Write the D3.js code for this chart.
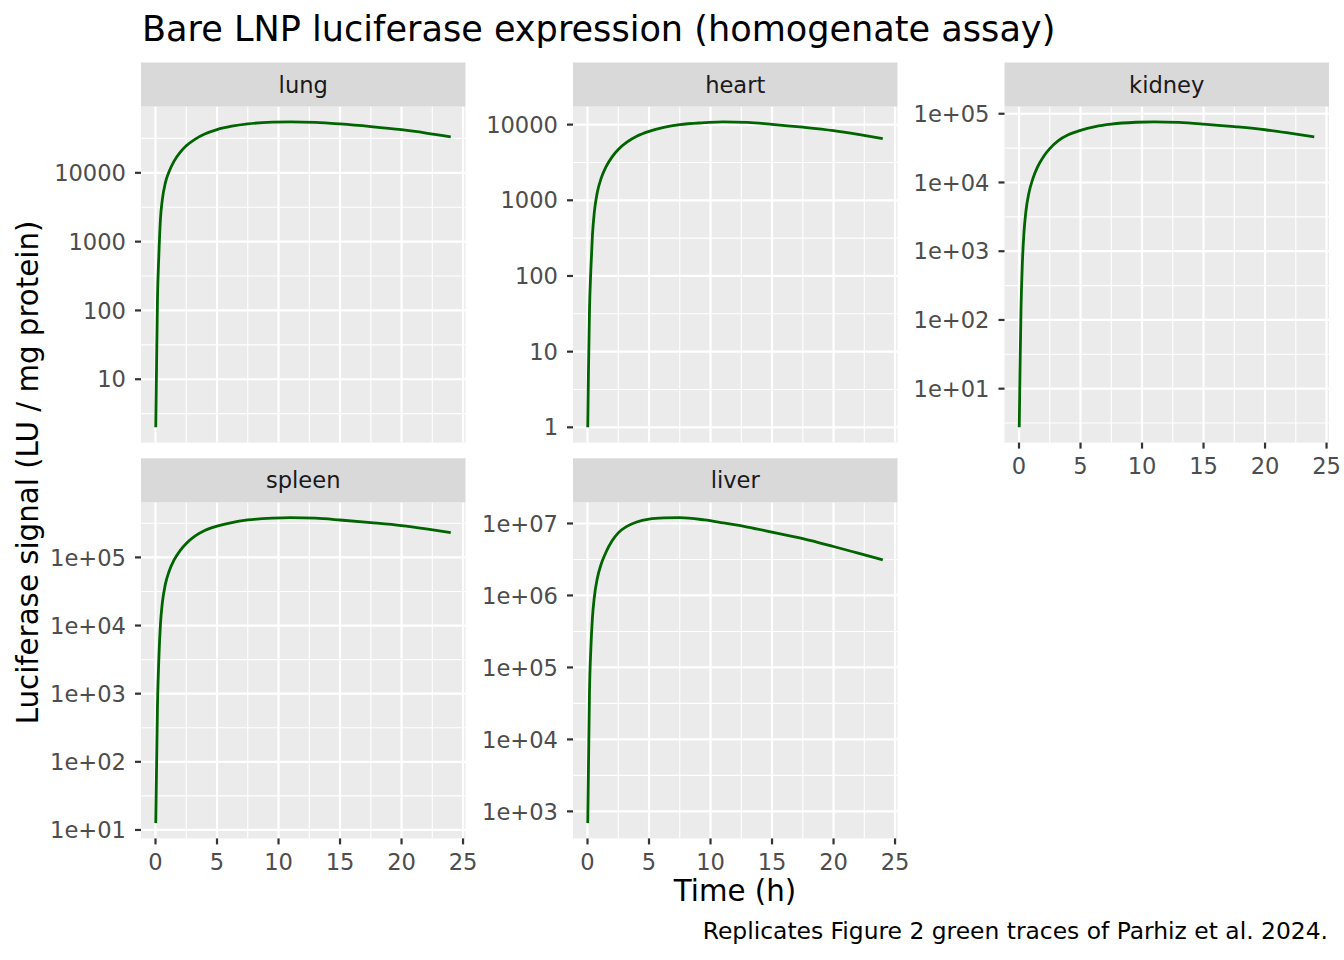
<!DOCTYPE html>
<html>
<head>
<meta charset="utf-8">
<script src="https://cdn.jsdelivr.net/npm/d3@7"></script>
<style>
  html, body { margin: 0; padding: 0; background: #ffffff; }
  svg { display: block; font-family: "DejaVu Sans", sans-serif; }
</style>
</head>
<body>
<script>
// ---------------- data ----------------
const organs = ["lung", "heart", "kidney", "spleen", "liver"];
const timeH = [0.02, 0.08, 0.16, 0.27, 0.4, 0.55, 0.8, 1.1, 1.5, 2, 2.5, 3.2, 4, 5, 6.2, 7.5, 9.5, 11, 13, 15, 17.5, 20, 22, 24];

const lungSignal   = [2.0, 13.2, 145, 619, 2100, 4020, 7140, 10400, 14700, 19800, 24700, 30700, 36600, 42500, 47600, 51500, 54500, 55200, 54100, 51300, 47000, 42300, 37900, 33400];
const heartSignal  = [1.0, 5.7, 34.4, 119, 344, 685, 1280, 1930, 2760, 3750, 4690, 5860, 7010, 8130, 9180, 10000, 10600, 10900, 10700, 10100, 9250, 8320, 7430, 6550];
const kidneySignal = [2.74, 17.9, 136, 650, 1830, 3660, 6970, 11000, 16700, 23900, 31100, 40600, 49300, 57400, 65000, 70600, 75200, 76400, 74800, 70800, 64900, 58500, 52200, 46100];
const spleenSignal = [12.6, 69.8, 667, 3190, 10300, 21100, 40200, 62200, 91000, 126000, 160000, 205000, 248000, 287000, 325000, 354000, 377000, 384000, 376000, 354000, 324000, 293000, 262000, 231000];
const liverSignal  = [687, 4220, 44700, 178000, 490000, 933000, 1740000, 2690000, 3980000, 5750000, 7410000, 9120000, 10500000, 11530000, 11970000, 12080000, 11200000, 10200000, 8910000, 7590000, 6170000, 4790000, 3870000, 3120000];

const lungBreaks   = [10, 100, 1000, 10000];
const lungLabels   = ["10", "100", "1000", "10000"];
const heartBreaks  = [1, 10, 100, 1000, 10000];
const heartLabels  = ["1", "10", "100", "1000", "10000"];
const kidneyBreaks = [1e1, 1e2, 1e3, 1e4, 1e5];
const kidneyLabels = ["1e+01", "1e+02", "1e+03", "1e+04", "1e+05"];
const spleenBreaks = [1e1, 1e2, 1e3, 1e4, 1e5];
const spleenLabels = ["1e+01", "1e+02", "1e+03", "1e+04", "1e+05"];
const liverBreaks  = [1e3, 1e4, 1e5, 1e6, 1e7];
const liverLabels  = ["1e+03", "1e+04", "1e+05", "1e+06", "1e+07"];

const xBreaks = [0, 5, 10, 15, 20, 25];
const xLabels = ["0", "5", "10", "15", "20", "25"];

const titleText   = "Bare LNP luciferase expression (homogenate assay)";
const xTitleText  = "Time (h)";
const yTitleText  = "Luciferase signal (LU / mg protein)";
const captionText = "Replicates Figure 2 green traces of Parhiz et al. 2024.";

// ---------------- layout ----------------
const W = 1344, H = 960;
const colLeft = [141, 573, 1004.5];
const panelW = 324.5;
const stripTop = [62.5, 458.3];
const stripH = 44;
const panelH = 336.1;
const tickFont = 22.6, stripFont = 22.6, captionFont = 23.4, axisTitleFont = 29.3, titleFont = 35.1;

const panels = [
  { name: "lung",   col: 0, row: 0, values: lungSignal,   breaks: lungBreaks,   labels: lungLabels,   xAxis: false },
  { name: "heart",  col: 1, row: 0, values: heartSignal,  breaks: heartBreaks,  labels: heartLabels,  xAxis: false },
  { name: "kidney", col: 2, row: 0, values: kidneySignal, breaks: kidneyBreaks, labels: kidneyLabels, xAxis: true },
  { name: "spleen", col: 0, row: 1, values: spleenSignal, breaks: spleenBreaks, labels: spleenLabels, xAxis: true },
  { name: "liver",  col: 1, row: 1, values: liverSignal,  breaks: liverBreaks,  labels: liverLabels,  xAxis: true }
];

const svg = d3.select("body").append("svg")
  .attr("width", W).attr("height", H)
  .attr("viewBox", `0 0 ${W} ${H}`);
svg.append("rect").attr("width", W).attr("height", H).attr("fill", "#ffffff");

const defs = svg.append("defs");

panels.forEach((p) => {
  const left = colLeft[p.col];
  const sTop = stripTop[p.row];
  const top = sTop + stripH;
  const bottom = top + panelH;

  // x scale with ggplot 5% expansion
  const tExt = d3.extent(timeH);
  const tSpan = tExt[1] - tExt[0];
  const x = d3.scaleLinear()
    .domain([tExt[0] - 0.05 * tSpan, tExt[1] + 0.05 * tSpan])
    .range([left, left + panelW]);

  // log y scale with 5% expansion in log space
  const lExt = d3.extent(p.values, v => Math.log10(v));
  const lSpan = lExt[1] - lExt[0];
  const lo = lExt[0] - 0.05 * lSpan, hi = lExt[1] + 0.05 * lSpan;
  const y = d3.scaleLog()
    .domain([Math.pow(10, lo), Math.pow(10, hi)])
    .range([bottom, top]);

  const g = svg.append("g").attr("class", "panel-" + p.name);

  g.append("rect")
    .attr("x", left).attr("y", top)
    .attr("width", panelW).attr("height", panelH)
    .attr("fill", "#EBEBEB");

  // minor grid (midpoints in transformed space)
  const xd = x.domain();
  const xMinor = [];
  for (let k = 0; k <= xBreaks.length; k++) {
    const a = k === 0 ? xBreaks[0] - 5 : xBreaks[k - 1];
    const b = k === xBreaks.length ? xBreaks[xBreaks.length - 1] + 5 : xBreaks[k];
    const m = (a + b) / 2;
    if (m >= xd[0] && m <= xd[1]) xMinor.push(m);
  }
  const logBreaks = p.breaks.map(v => Math.log10(v));
  const yMinorLog = [];
  for (let k = 0; k <= logBreaks.length; k++) {
    const a = k === 0 ? logBreaks[0] - 1 : logBreaks[k - 1];
    const b = k === logBreaks.length ? logBreaks[logBreaks.length - 1] + 1 : logBreaks[k];
    const m = (a + b) / 2;
    if (m >= lo && m <= hi) yMinorLog.push(m);
  }

  g.selectAll(".ymin").data(yMinorLog).enter().append("line")
    .attr("x1", left).attr("x2", left + panelW)
    .attr("y1", d => y(Math.pow(10, d))).attr("y2", d => y(Math.pow(10, d)))
    .attr("stroke", "#ffffff").attr("stroke-width", 1.1);
  g.selectAll(".xmin").data(xMinor).enter().append("line")
    .attr("y1", top).attr("y2", bottom)
    .attr("x1", d => x(d)).attr("x2", d => x(d))
    .attr("stroke", "#ffffff").attr("stroke-width", 1.1);

  g.selectAll(".ymaj").data(p.breaks).enter().append("line")
    .attr("x1", left).attr("x2", left + panelW)
    .attr("y1", d => y(d)).attr("y2", d => y(d))
    .attr("stroke", "#ffffff").attr("stroke-width", 2.2);
  g.selectAll(".xmaj").data(xBreaks.filter(v => v >= xd[0] && v <= xd[1])).enter().append("line")
    .attr("y1", top).attr("y2", bottom)
    .attr("x1", d => x(d)).attr("x2", d => x(d))
    .attr("stroke", "#ffffff").attr("stroke-width", 2.2);

  const clipId = "clip-" + p.name;
  defs.append("clipPath").attr("id", clipId)
    .append("rect").attr("x", left).attr("y", top).attr("width", panelW).attr("height", panelH);

  const pts = timeH.map((t, j) => [t, p.values[j]]);
  const line = d3.line()
    .x(d => x(d[0]))
    .y(d => y(d[1]))
    .curve(d3.curveMonotoneX);
  g.append("path")
    .attr("clip-path", `url(#${clipId})`)
    .attr("d", line(pts))
    .attr("fill", "none")
    .attr("stroke", "#006400")
    .attr("stroke-width", 2.8)
    .attr("stroke-linejoin", "round");

  // strip
  g.append("rect")
    .attr("x", left).attr("y", sTop)
    .attr("width", panelW).attr("height", stripH)
    .attr("fill", "#D9D9D9");
  g.append("text")
    .attr("x", left + panelW / 2).attr("y", sTop + stripH / 2 + 8)
    .attr("text-anchor", "middle")
    .attr("font-size", stripFont)
    .attr("fill", "#1A1A1A")
    .text(p.name);

  // y axis
  g.selectAll(".ytick").data(p.breaks).enter().append("line")
    .attr("x1", left - 6).attr("x2", left)
    .attr("y1", d => y(d)).attr("y2", d => y(d))
    .attr("stroke", "#333333").attr("stroke-width", 2.2);
  g.selectAll(".ylab").data(p.breaks).enter().append("text")
    .attr("x", left - 15)
    .attr("y", d => y(d) + tickFont * 0.36)
    .attr("text-anchor", "end")
    .attr("font-size", tickFont)
    .attr("fill", "#4D4D4D")
    .text((d, j) => p.labels[j]);

  // x axis
  if (p.xAxis) {
    g.selectAll(".xtick").data(xBreaks).enter().append("line")
      .attr("x1", d => x(d)).attr("x2", d => x(d))
      .attr("y1", bottom).attr("y2", bottom + 6)
      .attr("stroke", "#333333").attr("stroke-width", 2.2);
    g.selectAll(".xlab").data(xBreaks).enter().append("text")
      .attr("x", d => x(d))
      .attr("y", bottom + 31.5)
      .attr("text-anchor", "middle")
      .attr("font-size", tickFont)
      .attr("fill", "#4D4D4D")
      .text((d, j) => xLabels[j]);
  }
});

// titles
svg.append("text")
  .attr("x", 142).attr("y", 41)
  .attr("font-size", titleFont)
  .attr("fill", "#000000")
  .text(titleText);

svg.append("text")
  .attr("x", (colLeft[0] + colLeft[2] + panelW) / 2).attr("y", 901)
  .attr("text-anchor", "middle")
  .attr("font-size", axisTitleFont)
  .attr("fill", "#000000")
  .text(xTitleText);

svg.append("text")
  .attr("transform", `translate(38, ${(stripTop[0] + stripH + stripTop[1] + stripH + panelH) / 2}) rotate(-90)`)
  .attr("text-anchor", "middle")
  .attr("font-size", axisTitleFont)
  .attr("fill", "#000000")
  .text(yTitleText);

svg.append("text")
  .attr("x", 1328).attr("y", 939)
  .attr("text-anchor", "end")
  .attr("font-size", captionFont)
  .attr("fill", "#000000")
  .text(captionText);
</script>
</body>
</html>
